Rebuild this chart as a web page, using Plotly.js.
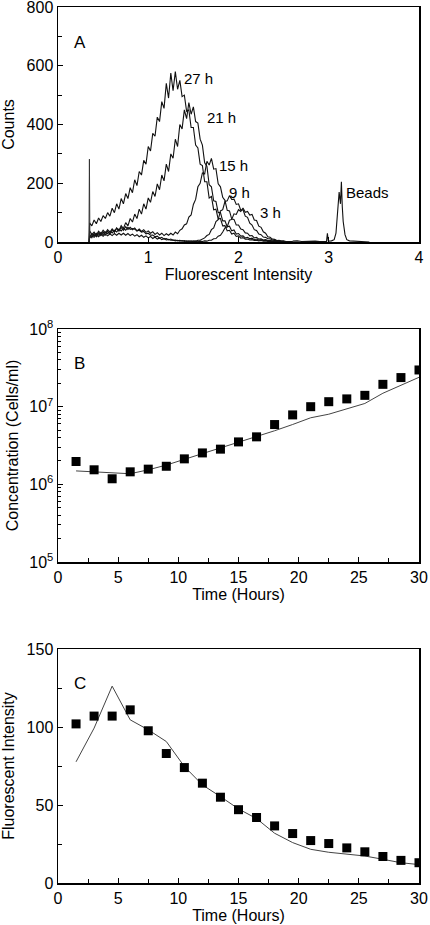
<!DOCTYPE html>
<html>
<head>
<meta charset="utf-8">
<script src="https://cdn.plot.ly/plotly-3.0.1.min.js"></script>
<style>html,body{margin:0;padding:0;background:#fff;}#chart{width:430px;height:925px;}</style>
</head>
<body>
<div id="chart"></div>
<script>
// ---------- Panel A: flow cytometry histograms ----------
const histX = [0.345,
  0.35,0.375,0.4,0.425,0.45,0.475,0.5,0.525,0.55,0.575,
  0.6,0.625,0.65,0.675,0.7,0.725,0.75,0.775,0.8,0.825,
  0.85,0.875,0.9,0.925,0.95,0.975,1.0,1.025,1.05,1.075,
  1.1,1.125,1.15,1.175,1.2,1.225,1.25,1.275,1.3,1.325,
  1.35,1.375,1.4,1.425,1.45,1.475,1.5,1.525,1.55,1.575,
  1.6,1.625,1.65,1.675,1.7,1.725,1.75,1.775,1.8,1.825,
  1.85,1.875,1.9,1.925,1.95,1.975,2.0,2.025,2.05,2.075,
  2.1,2.125,2.15,2.175,2.2,2.225,2.25,2.275,2.3,2.325,
  2.35,2.375,2.4,2.425,2.45,2.475,2.5,2.525,2.55,2.575,
  2.6];
const counts27h = [0,
  65,55,75,62,82,70,90,80,100,88,
  115,100,130,112,148,130,165,148,185,168,
  212,192,240,228,278,265,325,310,370,360,
  425,410,478,455,540,490,575,515,580,520,
  550,495,500,445,450,390,390,330,320,265,
  260,205,205,150,155,110,112,78,80,55,
  56,38,40,27,30,19,21,13,15,10,
  10,7,8,5,6,4,5,3,4,2,
  3,2,2,1,2,1,1,1,1,0,
  0];
const counts21h = [0,
  25,15,30,18,32,22,34,24,37,27,
  42,33,48,38,56,46,66,55,80,68,
  95,80,112,95,130,112,150,135,172,155,
  198,178,228,208,265,240,300,285,350,325,
  400,385,450,420,475,435,460,410,405,350,
  330,270,258,195,188,140,138,100,100,72,
  72,52,54,38,41,27,29,20,21,14,
  16,11,13,8,10,6,8,5,6,4,
  5,3,4,2,3,2,2,1,1,1,
  0];
const counts15h = [0,
  38,26,34,24,37,28,40,31,42,33,
  45,36,47,38,50,40,52,43,50,42,
  48,38,44,36,42,33,38,30,35,26,
  32,24,30,22,28,23,30,24,34,28,
  40,45,58,62,85,92,128,145,188,200,
  235,232,275,262,285,248,250,198,188,152,
  142,108,106,78,77,58,58,44,42,31,
  30,21,22,14,16,10,11,7,8,5,
  6,3,5,2,3,2,2,1,1,1,
  0];
const counts9h = [0,
  18,27,20,30,23,32,25,34,28,37,
  31,40,34,44,38,47,40,50,43,46,
  44,38,40,34,36,28,30,23,24,18,
  20,13,16,10,12,8,10,6,7,4,
  6,3,5,2,4,2,4,3,6,6,
  10,14,22,26,42,48,70,76,106,110,
  138,140,158,145,146,128,130,108,110,88,
  84,64,58,42,39,27,25,17,16,11,
  11,7,7,4,5,3,3,1,2,1,
  0];
const counts3h = [0,
  13,22,16,24,18,26,20,27,21,28,
  22,29,23,30,24,30,23,29,22,27,
  20,25,18,23,16,21,14,19,12,17,
  10,14,8,12,7,9,6,7,4,6,
  3,5,2,4,2,4,1,3,1,3,
  2,4,3,6,6,11,12,20,23,34,
  48,52,74,77,96,94,110,104,116,101,
  104,92,94,75,73,54,50,35,30,18,
  16,10,9,5,6,3,4,2,2,1,
  0];
const beadsX = [2.6,2.65,2.7,2.75,2.8,2.85,2.9,2.95,2.975,2.985,2.995,3.03,3.06,3.08,3.1,3.115,3.13,3.14,3.15,3.16,3.18,3.2,3.23,3.27,3.3,3.35,3.4,3.45];
const beadsY = [3,4,2,3,2,3,2,3,2,30,3,4,8,30,110,170,130,205,120,70,25,8,4,3,2,3,2,0];
const debrisX = [0.343,0.348,0.353];
const debrisY = [0,282,20];
const histLabels = ["27 h","21 h","15 h","9 h","3 h","Beads"];
const histLabelX = [1.56,1.81,1.94,2.01,2.36,3.43];
const histLabelY = [558,425,259,167,99,167];

// ---------- Panel B: cell concentration ----------
const timeH = [1.5,3,4.5,6,7.5,9,10.5,12,13.5,15,16.5,18,19.5,21,22.5,24,25.5,27,28.5,30];
const concMeasured = [1.97e6,1.54e6,1.18e6,1.45e6,1.57e6,1.71e6,2.13e6,2.54e6,2.84e6,3.52e6,4.09e6,5.89e6,7.84e6,1.0e7,1.16e7,1.26e7,1.40e7,1.94e7,2.37e7,2.97e7];
const concModel = [1.49e6,1.44e6,1.39e6,1.37e6,1.54e6,1.77e6,2.1e6,2.49e6,2.9e6,3.46e6,4.12e6,4.9e6,5.9e6,7.2e6,8.0e6,9.35e6,1.1e7,1.49e7,1.9e7,2.39e7];
const logTickVals = [1e5,1e6,1e7,1e8];
const logTickText = ["10<sup>5</sup>","10<sup>6</sup>","10<sup>7</sup>","10<sup>8</sup>"];
const logMinorVals = [2e5,3e5,4e5,5e5,6e5,7e5,8e5,9e5,2e6,3e6,4e6,5e6,6e6,7e6,8e6,9e6,2e7,3e7,4e7,5e7,6e7,7e7,8e7,9e7];

// ---------- Panel C: mean fluorescent intensity ----------
const fiMeasured = [102,107,107,111,97.6,83,74,64,55,47,42,36.6,31.7,27.2,25.3,22.5,20,17,14.5,13];
const fiModel = [77.7,99.3,126.2,104.6,98.2,90.7,74.7,62.9,55.4,47.5,41.3,31.9,25.9,21.6,19.7,18.6,17.3,15.2,13,11.8];

const FONT = "Liberation Sans, Arial, sans-serif";
const histLine = {color:'#111', width:1.1};
const traces = [
  {x:histX, y:counts27h, type:'scatter', mode:'lines', line:histLine, xaxis:'x', yaxis:'y'},
  {x:histX, y:counts21h, type:'scatter', mode:'lines', line:histLine, xaxis:'x', yaxis:'y'},
  {x:histX, y:counts15h, type:'scatter', mode:'lines', line:histLine, xaxis:'x', yaxis:'y'},
  {x:histX, y:counts9h, type:'scatter', mode:'lines', line:histLine, xaxis:'x', yaxis:'y'},
  {x:histX, y:counts3h, type:'scatter', mode:'lines', line:histLine, xaxis:'x', yaxis:'y'},
  {x:beadsX, y:beadsY, type:'scatter', mode:'lines', line:histLine, xaxis:'x', yaxis:'y'},
  {x:debrisX, y:debrisY, type:'scatter', mode:'lines', line:{color:'#333', width:1}, xaxis:'x', yaxis:'y'},
  {x:timeH, y:concModel, type:'scatter', mode:'lines', line:{color:'#444', width:1}, xaxis:'x2', yaxis:'y2'},
  {x:timeH, y:concMeasured, type:'scatter', mode:'markers', marker:{symbol:'square', size:9, color:'#000'}, xaxis:'x2', yaxis:'y2'},
  {x:timeH, y:fiModel, type:'scatter', mode:'lines', line:{color:'#444', width:1}, xaxis:'x3', yaxis:'y3'},
  {x:timeH, y:fiMeasured, type:'scatter', mode:'markers', marker:{symbol:'square', size:9, color:'#000'}, xaxis:'x3', yaxis:'y3'}
];

const axBase = {showline:true, linecolor:'#000', linewidth:1.5, mirror:true, ticks:'inside', ticklen:5, tickcolor:'#000', tickwidth:1,
  showgrid:false, zeroline:false, tickfont:{family:FONT, size:16, color:'#000'}, automargin:false, ticklabeloverflow:'allow'};
function ax(extra){ return Object.assign({}, axBase, extra); }

const annotations = histLabels.map((t,i)=>({text:t, x:histLabelX[i], y:histLabelY[i], xref:'x', yref:'y', showarrow:false, font:{family:FONT, size:15, color:'#000'}}));
annotations.push({text:'A', x:0.04, y:0.9, xref:'x domain', yref:'y domain', showarrow:false, font:{family:FONT, size:17, color:'#000'}, xanchor:'left'});
annotations.push({text:'B', x:0.04, y:0.9, xref:'x2 domain', yref:'y2 domain', showarrow:false, font:{family:FONT, size:17, color:'#000'}, xanchor:'left'});
annotations.push({text:'C', x:0.04, y:0.9, xref:'x3 domain', yref:'y3 domain', showarrow:false, font:{family:FONT, size:17, color:'#000'}, xanchor:'left'});

const titleFont = {family:FONT, size:16, color:'#000'};
const layout = {
  width:430, height:925, margin:{l:58, r:11, t:7, b:42},
  paper_bgcolor:'#fff', plot_bgcolor:'#fff', showlegend:false,
  font:{family:FONT, color:'#000'},
  xaxis: ax({domain:[0,1], range:[0,4], anchor:'y', dtick:1, title:{text:'Fluorescent Intensity', font:titleFont, standoff:1}}),
  yaxis: ax({domain:[0.7317,1], range:[0,800], anchor:'x', dtick:200, minor:{dtick:100, ticks:'inside', ticklen:4, tickcolor:'#000'}, title:{text:'Counts', font:titleFont, standoff:8}}),
  xaxis2: ax({domain:[0,1], range:[0,30], anchor:'y2', dtick:5, minor:{dtick:2.5, ticks:'inside', ticklen:4, tickcolor:'#000'}, title:{text:'Time (Hours)', font:titleFont, standoff:2}}),
  yaxis2: ax({domain:[0.3664,0.6324], type:'log', range:[5,8], anchor:'x2', tickmode:'array', tickvals:logTickVals, ticktext:logTickText,
    minor:{tickmode:'array', tickvals:logMinorVals, ticks:'inside', ticklen:3, tickcolor:'#000', showgrid:false}, title:{text:'Concentration (Cells/ml)', font:titleFont, standoff:6}}),
  xaxis3: ax({domain:[0,1], range:[0,30], anchor:'y3', dtick:5, minor:{dtick:2.5, ticks:'inside', ticklen:4, tickcolor:'#000'}, title:{text:'Time (Hours)', font:titleFont, standoff:2}}),
  yaxis3: ax({domain:[0,0.2671], range:[0,150], anchor:'x3', dtick:50, minor:{dtick:25, ticks:'inside', ticklen:4, tickcolor:'#000'}, title:{text:'Fluorescent Intensity', font:titleFont, standoff:8}}),
  annotations: annotations
};
Plotly.newPlot('chart', traces, layout, {staticPlot:true, displayModeBar:false});
</script>
</body>
</html>
